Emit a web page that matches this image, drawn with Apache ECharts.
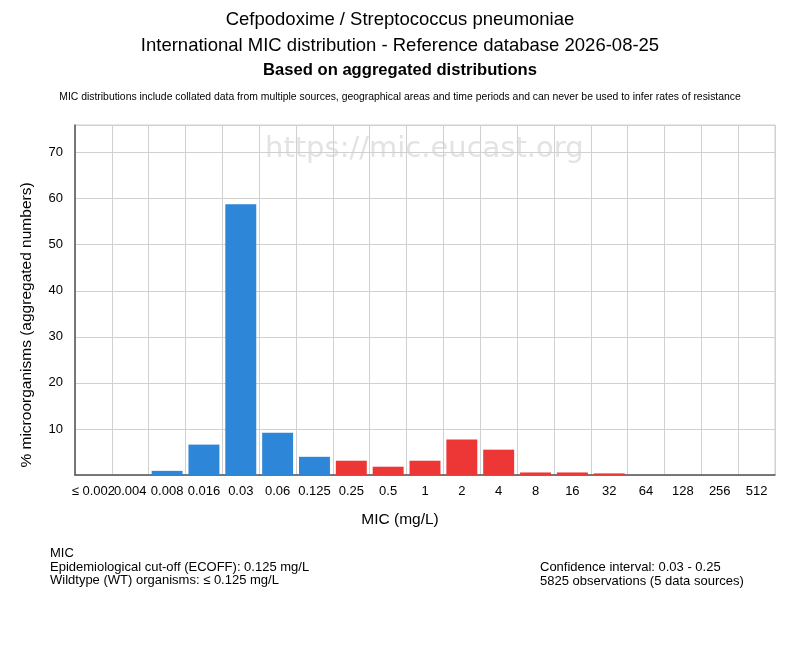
<!DOCTYPE html>
<html lang="en">
<head>
	<meta charset="UTF-8">
	<title>MIC distribution</title>
	<script src="https://cdn.jsdelivr.net/npm/echarts@6/dist/echarts.min.js"></script>
	<style>
		* { margin: 0; padding: 0; }
		body, html, #main { height: 100%; width: 100%; background: #fff; }
	</style>
</head>
<body>
	<div id="main"></div>
	<script>
		const micLabels = ['≤ 0.002', '0.004', '0.008', '0.016', '0.03', '0.06', '0.125', '0.25', '0.5',
			'1', '2', '4', '8', '16', '32', '64', '128', '256', '512'];
		// percent of organisms per MIC value
		const percents = [0, 0, 0.9, 6.6, 58.8, 9.2, 3.95, 3.1, 1.8, 3.1, 7.7, 5.5, 0.55, 0.55, 0.35, 0, 0, 0, 0];
		const ecoffIndex = 6; // 0.125 mg/L, last wildtype class
		const yTicks = [10, 20, 30, 40, 50, 60, 70];

		const font = '"Liberation Sans", Arial, sans-serif';
		const myChart = echarts.init(document.getElementById('main'));

		const option = {
			backgroundColor: '#fff',
			animation: false,
			title: [
				{ text: 'Cefpodoxime / Streptococcus pneumoniae', left: 'center', top: 5,
					textStyle: { fontFamily: font, fontSize: 18.5, fontWeight: 'normal', color: '#000' } },
				{ text: 'International MIC distribution - Reference database 2026-08-25', left: 'center', top: 31,
					textStyle: { fontFamily: font, fontSize: 18.5, fontWeight: 'normal', color: '#000' } },
				{ text: 'Based on aggregated distributions', left: 'center', top: 57,
					textStyle: { fontFamily: font, fontSize: 16.6, fontWeight: 'bold', color: '#000' } },
				{ text: 'MIC distributions include collated data from multiple sources, geographical areas and time periods and can never be used to infer rates of resistance',
					left: 'center', top: 87,
					textStyle: { fontFamily: font, fontSize: 10.4, fontWeight: 'normal', color: '#000' } }
			],
			grid: {
				left: 75, right: 25, top: 125, bottom: 175,
				show: true, borderColor: '#d0d0d0', borderWidth: 1
			},
			graphic: [
				{ type: 'text', left: 265, top: 135, z: 0,
					style: { text: 'https://mic.eucast.org', fontFamily: '"DejaVu Sans", sans-serif', fontSize: 29, fill: '#e3e3e3' } },
				{ type: 'text', left: 'center', top: 512,
					style: { text: 'MIC (mg/L)', fontFamily: font, fontSize: 15.5, fill: '#000' } },
				{ type: 'text', left: 19, top: 'middle', rotation: Math.PI / 2,
					style: { text: '% microorganisms (aggregated numbers)', fontFamily: font, fontSize: 15.5, fill: '#000' } },
				{ type: 'text', left: 50, top: 547,
					style: { text: 'MIC\nEpidemiological cut-off (ECOFF): 0.125 mg/L\nWildtype (WT) organisms: ≤ 0.125 mg/L',
						fontFamily: font, fontSize: 13, lineHeight: 13.5, fill: '#000' } },
				{ type: 'text', left: 540, top: 561,
					style: { text: 'Confidence interval: 0.03 - 0.25\n5825 observations (5 data sources)',
						fontFamily: font, fontSize: 13, lineHeight: 13.5, fill: '#000' } }
			],
			xAxis: {
				type: 'category',
				data: micLabels,
				axisLine: { lineStyle: { color: '#555', width: 1.5 } },
				axisTick: { show: false },
				axisLabel: { interval: 0, fontFamily: font, fontSize: 13, color: '#000', margin: 10 },
				splitLine: { show: true, interval: 0, lineStyle: { color: '#d0d0d0' } }
			},
			yAxis: {
				type: 'value',
				min: 0,
				max: 76,
				interval: 10,
				axisLine: { show: true, lineStyle: { color: '#555', width: 1.5 } },
				axisTick: { show: false },
				axisLabel: {
					fontFamily: font, fontSize: 13, color: '#000', margin: 12,
					formatter: v => (yTicks.indexOf(v) >= 0 ? String(v) : '')
				},
				splitLine: { lineStyle: { color: '#d0d0d0' } }
			},
			series: [{
				type: 'bar',
				barCategoryGap: '16%',
				data: percents.map((v, i) => ({
					value: v,
					itemStyle: { color: i <= ecoffIndex ? '#2e86d9' : '#ed3636' }
				}))
			}]
		};
		myChart.setOption(option);
	</script>
</body>
</html>
